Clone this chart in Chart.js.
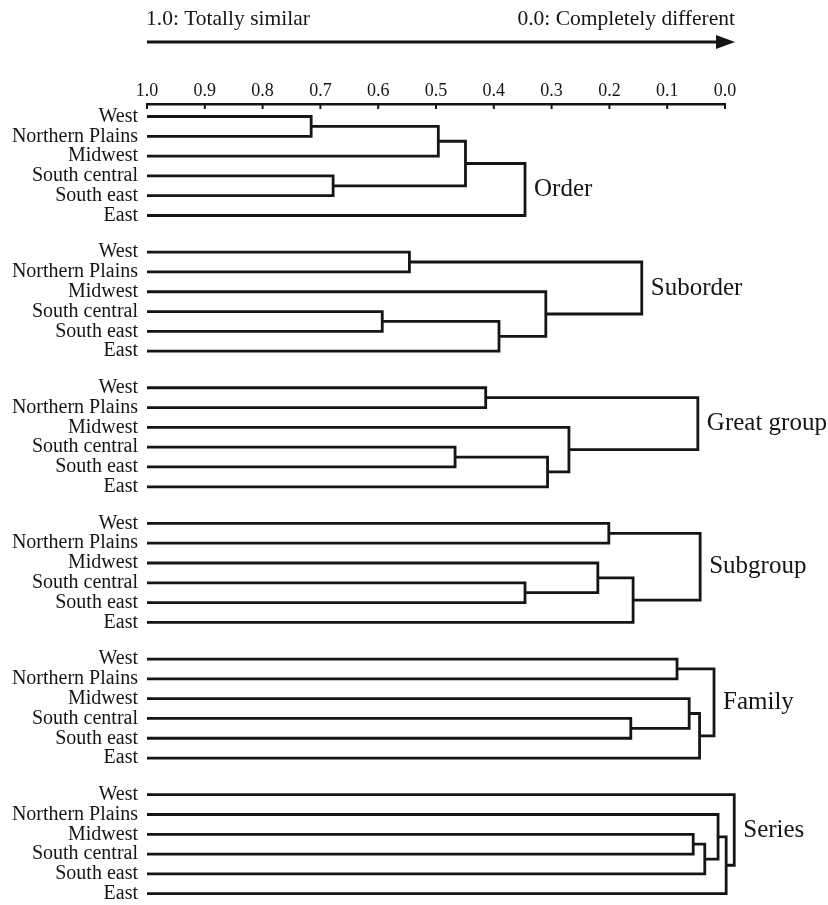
<!DOCTYPE html>
<html>
<head>
<meta charset="utf-8">
<script src="https://cdn.jsdelivr.net/npm/chart.js@4.4.1/dist/chart.umd.min.js"></script>
<style>
  html, body { margin: 0; padding: 0; background: #ffffff; }
  #wrap { position: relative; width: 828px; height: 905px; }
</style>
</head>
<body>
<div id="wrap"><canvas id="dendro"></canvas></div>
<script>
// Leaf regions (same order in every panel)
const regions = ['West', 'Northern Plains', 'Midwest', 'South central', 'South east', 'East'];
// Taxonomic levels, one dendrogram each
const levels = ['Order', 'Suborder', 'Great group', 'Subgroup', 'Family', 'Series'];
// Similarity axis tick values
const xTickValues = [1.0, 0.9, 0.8, 0.7, 0.6, 0.5, 0.4, 0.3, 0.2, 0.1, 0.0];

// Merge steps per level: [nodeA, nodeB, similarity].
// Leaves are nodes 0-5; the k-th merge creates node 6 + k.
const orderMerges      = [[0, 1, 0.716], [6, 2, 0.496], [3, 4, 0.678], [7, 8, 0.449], [9, 5, 0.346]];
const suborderMerges   = [[0, 1, 0.546], [3, 4, 0.593], [7, 5, 0.391], [2, 8, 0.310], [6, 9, 0.144]];
const greatGroupMerges = [[0, 1, 0.414], [3, 4, 0.467], [7, 5, 0.307], [2, 8, 0.270], [6, 9, 0.047]];
const subgroupMerges   = [[0, 1, 0.201], [3, 4, 0.346], [2, 7, 0.220], [8, 5, 0.159], [6, 9, 0.043]];
const familyMerges     = [[0, 1, 0.083], [3, 4, 0.163], [2, 7, 0.062], [8, 5, 0.044], [6, 9, 0.019]];
const seriesMerges     = [[2, 3, 0.055], [6, 4, 0.035], [1, 7, 0.012], [8, 5, -0.002], [0, 9, -0.016]];

const mergeSets = [orderMerges, suborderMerges, greatGroupMerges, subgroupMerges, familyMerges, seriesMerges];

const PANEL_STRIDE = 6.85;   // vertical distance between panels, in row units
const INK = '#151515';
const SERIF = '"Liberation Serif", "Times New Roman", serif';

// Build the U-shaped links of every dendrogram and remember each root
const datasets = [];
const leafRows = [];
const roots = [];
mergeSets.forEach((merges, p) => {
  const base = p * PANEL_STRIDE;
  const nodeX = [];
  const nodeY = [];
  regions.forEach((_, i) => {
    nodeX.push(1.0);
    nodeY.push(base + i);
    leafRows.push(base + i);
  });
  merges.forEach(([a, b, h]) => {
    datasets.push({
      type: 'line',
      data: [
        { x: nodeX[a], y: nodeY[a] },
        { x: h, y: nodeY[a] },
        { x: h, y: nodeY[b] },
        { x: nodeX[b], y: nodeY[b] }
      ],
      borderColor: INK,
      borderWidth: 2.8,
      pointRadius: 0,
      pointHoverRadius: 0,
      fill: false,
      tension: 0,
      clip: false,
      borderJoinStyle: 'miter',
      borderCapStyle: 'butt'
    });
    nodeX.push(h);
    nodeY.push((nodeY[a] + nodeY[b]) / 2);
  });
  roots.push({ x: nodeX[nodeX.length - 1], y: nodeY[nodeY.length - 1] });
});

// Headline arrow, downward ruler ticks and level names
const decorations = {
  id: 'decorations',
  afterDraw(chart) {
    const { ctx, chartArea, scales } = chart;
    const xs = scales.x, ys = scales.y;
    ctx.save();
    ctx.fillStyle = INK;
    ctx.strokeStyle = INK;

    // ruler tick marks pointing down
    ctx.lineWidth = 2;
    xTickValues.forEach(v => {
      const px = xs.getPixelForValue(v);
      ctx.beginPath();
      ctx.moveTo(px, chartArea.top);
      ctx.lineTo(px, chartArea.top + 5);
      ctx.stroke();
    });

    // direction arrow
    const ax0 = xs.getPixelForValue(1.0);
    const ax1 = chartArea.right + 10;
    const ay = 42;
    ctx.lineWidth = 3;
    ctx.beginPath();
    ctx.moveTo(ax0, ay);
    ctx.lineTo(ax1 - 16, ay);
    ctx.stroke();
    ctx.beginPath();
    ctx.moveTo(ax1, ay);
    ctx.lineTo(ax1 - 19, ay - 7);
    ctx.lineTo(ax1 - 19, ay + 7);
    ctx.closePath();
    ctx.fill();

    // end labels of the arrow
    ctx.font = '21.5px ' + SERIF;
    ctx.textBaseline = 'alphabetic';
    ctx.textAlign = 'left';
    ctx.fillText('1.0: Totally similar', ax0 - 1, 25);
    ctx.textAlign = 'right';
    ctx.fillText('0.0: Completely different', ax1, 25);

    // level names beside each root
    ctx.font = '25px ' + SERIF;
    ctx.textAlign = 'left';
    ctx.textBaseline = 'middle';
    roots.forEach((r, i) => {
      ctx.fillText(levels[i], xs.getPixelForValue(r.x) + 9, ys.getPixelForValue(r.y));
    });
    ctx.restore();
  }
};

new Chart(document.getElementById('dendro'), {
  type: 'line',
  data: { datasets },
  options: {
    responsive: true,
    maintainAspectRatio: false,
    animation: false,
    events: [],
    layout: { padding: { top: 0, right: 103, bottom: 0, left: 0 } },
    plugins: { legend: { display: false }, tooltip: { enabled: false }, title: { display: false } },
    scales: {
      x: {
        type: 'linear',
        position: 'top',
        reverse: true,
        min: 0,
        max: 1,
        afterBuildTicks: scale => { scale.ticks = xTickValues.map(v => ({ value: v })); },
        afterFit: scale => {
          scale.height = 104;
          scale.paddingLeft = 0;
          scale.paddingRight = 0;
        },
        ticks: {
          autoSkip: false,
          maxRotation: 0,
          padding: 2,
          color: INK,
          font: { family: SERIF, size: 18 },
          callback: v => Number(v).toFixed(1)
        },
        grid: { display: false, drawTicks: false },
        border: { display: true, color: INK, width: 2.6 }
      },
      y: {
        type: 'linear',
        reverse: true,
        min: -0.63,
        max: 39.82,
        afterBuildTicks: scale => { scale.ticks = leafRows.map(v => ({ value: v })); },
        afterFit: scale => {
          scale.width = 147;
          scale.paddingTop = 0;
          scale.paddingBottom = 0;
        },
        ticks: {
          autoSkip: false,
          padding: 9,
          color: INK,
          font: { family: SERIF, size: 20 },
          callback: (v, i) => regions[i % regions.length]
        },
        grid: { display: false, drawTicks: false },
        border: { display: false }
      }
    }
  },
  plugins: [decorations]
});
</script>
</body>
</html>
